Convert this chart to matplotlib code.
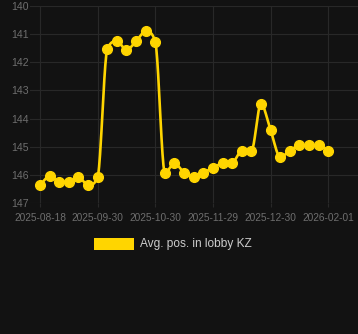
import numpy as np
import matplotlib
matplotlib.use("Agg")
import matplotlib.pyplot as plt
import matplotlib.patches as patches

dates = ["2025-08-18", "2025-08-25", "2025-09-01", "2025-09-08", "2025-09-15", "2025-09-22",
         "2025-09-30", "2025-10-05", "2025-10-10", "2025-10-15", "2025-10-20", "2025-10-25",
         "2025-10-30", "2025-11-04", "2025-11-09", "2025-11-14", "2025-11-19", "2025-11-24",
         "2025-11-29", "2025-12-04", "2025-12-09", "2025-12-14", "2025-12-19", "2025-12-25",
         "2025-12-30", "2026-01-05", "2026-01-11", "2026-01-16", "2026-01-21", "2026-01-26",
         "2026-02-01"]
avg_pos = [146.36, 146.04, 146.24, 146.24, 146.07, 146.37, 146.07,
           141.54, 141.25, 141.56, 141.25, 140.90, 141.27,
           145.92, 145.59, 145.92, 146.07, 145.92, 145.75, 145.59, 145.57,
           145.15, 145.15, 143.47, 144.41, 145.36, 145.15,
           144.95, 144.95, 144.95, 145.15]
label_every = 6
series_name = "Avg. pos. in lobby KZ"

bg = "#121212"
grid_col = "#282828"
text_col = "#6e6e6e"
line_col = "#ffd500"


def monotone(x, y, n=20):
    # Fritsch-Carlson monotone cubic, like chart.js "monotone"
    x = np.asarray(x, float)
    y = np.asarray(y, float)
    h = np.diff(x)
    d = np.diff(y) / h
    m = np.zeros_like(y)
    m[0], m[-1] = d[0], d[-1]
    for i in range(1, len(y) - 1):
        m[i] = 0 if d[i - 1] * d[i] <= 0 else (d[i - 1] + d[i]) / 2
    for i in range(len(d)):
        if d[i] == 0:
            m[i] = m[i + 1] = 0
            continue
        a, b = m[i] / d[i], m[i + 1] / d[i]
        s = a * a + b * b
        if s > 9:
            t = 3 / np.sqrt(s)
            m[i], m[i + 1] = t * a * d[i], t * b * d[i]
    xs, ys = [], []
    for i in range(len(d)):
        t = np.linspace(0, 1, n, endpoint=False)
        h00 = 2 * t**3 - 3 * t**2 + 1
        h10 = t**3 - 2 * t**2 + t
        h01 = -2 * t**3 + 3 * t**2
        h11 = t**3 - t**2
        xs.append(x[i] + t * h[i])
        ys.append(h00 * y[i] + h10 * h[i] * m[i] + h01 * y[i + 1] + h11 * h[i] * m[i + 1])
    xs.append([x[-1]])
    ys.append([y[-1]])
    return np.concatenate(xs), np.concatenate(ys)


plt.rcParams["font.family"] = ["Liberation Sans", "DejaVu Sans"]

fig = plt.figure(figsize=(3.58, 3.34), dpi=100, facecolor=bg)
ax = fig.add_axes([0.0838, 0.392, 0.9162, 0.590], facecolor=bg)

idx = np.arange(len(dates))
sx, sy = monotone(idx, avg_pos)
ax.plot(sx, sy, color=line_col, lw=1.9, zorder=3, solid_capstyle="round")
ax.plot(idx, avg_pos, "o", color=line_col, ms=7, zorder=4)

ax.set_xlim(-1.04, 33.1)
ax.set_ylim(147, 140)
ax.set_yticks(range(140, 148))
ticks = idx[::label_every]
ax.set_xticks(ticks)
ax.set_xticklabels([dates[i] for i in ticks])

ax.grid(True, color=grid_col, lw=0.8)
ax.set_axisbelow(True)
for s in ax.spines.values():
    s.set_visible(False)
ax.tick_params(axis="both", colors=grid_col, labelcolor=text_col, width=0.8)
ax.tick_params(axis="x", labelsize=7.3, length=3, pad=4.5)
ax.tick_params(axis="y", labelsize=7.6, length=0, pad=1)

# legend drawn as box + text under the axes
fig.patches.append(patches.Rectangle((94 / 358, 1 - 250 / 334), 40 / 358, 12 / 334,
                                     transform=fig.transFigure, facecolor=line_col,
                                     edgecolor="none"))
fig.text(140 / 358, 1 - 244.5 / 334, series_name, color="#cccccc", fontsize=8.6,
         va="center", ha="left")

fig.savefig("out.png", dpi=100, facecolor=bg)
